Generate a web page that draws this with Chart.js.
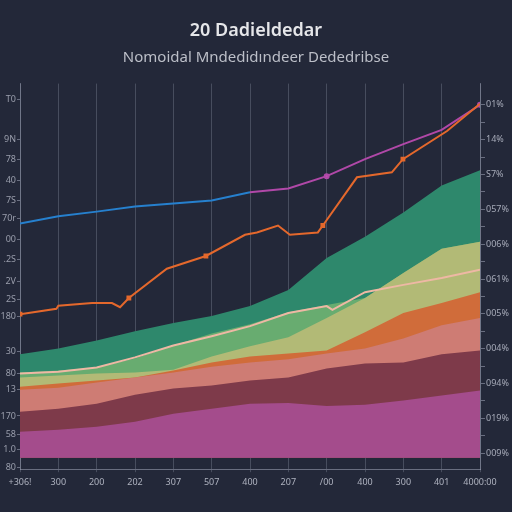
<!DOCTYPE html>
<html>
<head>
<meta charset="utf-8">
<script src="https://cdn.jsdelivr.net/npm/chart.js@4/dist/chart.umd.min.js"></script>
<style>
  html, body { margin: 0; padding: 0; background: #232839; }
  canvas { display: block; }
</style>
</head>
<body>
<canvas id="chart" width="512" height="512"></canvas>
<script>
// axis labels
const xLabels = ["+306!", "300", "200", "202", "307", "507", "400", "207", "/00", "400", "300", "401", "4000:00"];
const leftTickValues = [92.8, 82.6, 77.4, 71.9, 66.7, 62.0, 56.5, 51.3, 45.8, 40.9, 36.7, 27.5, 21.8, 17.6, 10.8, 6.1, 2.0, -2.5];
const leftTickLabels = ["T0", "9N", "78", "40", "7S", "70r", "00", ".2S", "2V", "2S", "180", "30", "80", "13", "170", "58", "1.0", "80"];
const rightTickLabels = ["01%", "14%", "S7%", "057%", "006%", "061%", "005%", "004%", "094%", "019%", "009%"];

// stacked band tops (absolute), one value per x category
const magentaTop = [6.7, 7.2, 8.0, 9.3, 11.4, 12.7, 14.0, 14.2, 13.4, 13.7, 14.8, 16.1, 17.4];
const maroonTop  = [11.9, 12.7, 14.0, 16.3, 17.9, 18.7, 20.0, 20.8, 23.1, 24.4, 24.7, 26.8, 27.8];
const salmonTop  = [17.6, 18.1, 19.5, 20.8, 22.1, 23.6, 24.7, 25.5, 27.0, 28.3, 30.9, 34.3, 36.2];
const orangeTop  = [18.4, 19.2, 20.0, 20.8, 22.6, 24.7, 26.2, 27.0, 27.8, 32.5, 37.5, 40.1, 42.9];
const yellowTop  = [20.8, 21.3, 21.8, 22.1, 22.8, 26.2, 28.9, 31.2, 36.2, 41.4, 47.9, 54.2, 56.0];
const greenTop   = [22.1, 22.6, 23.4, 25.7, 29.1, 32.2, 34.6, 37.7, 39.6, 41.4, 47.9, 54.2, 56.0];
const tealTop    = [26.8, 28.3, 30.4, 32.8, 34.9, 36.7, 39.3, 43.5, 51.8, 57.3, 63.6, 70.6, 74.5];

// lines
const blueLine = [60.7, 62.6, 63.8, 65.1, 65.9, 66.7, 68.8, 69.8, 73.0, 77.4, 81.3, 85.0, 91.5];
const pinkX = [0, 1, 2, 3, 4, 5, 6, 7, 8, 8.15, 9, 10, 11, 12];
const pinkY = [21.8, 22.3, 23.4, 26.0, 29.1, 31.5, 34.1, 37.5, 39.3, 38.3, 42.9, 44.8, 46.6, 48.7];
const orangeX = [0, 0.95, 1.0, 1.88, 2.4, 2.61, 2.84, 3.83, 4.85, 5.87, 6.18, 6.73, 7.04, 7.77, 7.9, 8.79, 9.7, 9.99, 11.14, 12];
const orangeY = [37.2, 38.6, 39.4, 40.1, 40.1, 39.0, 41.4, 49.0, 52.3, 57.8, 58.4, 60.2, 57.8, 58.4, 60.2, 72.7, 74.0, 77.4, 84.7, 91.8];
const orangeMarked = [0, 6, 8, 14, 17];

const pts = (ys, xs) => ys.map((y, i) => ({ x: xs ? xs[i] : i, y: y }));

function band(values, color) {
    return {
        data: pts(values),
        fill: "origin",
        backgroundColor: color,
        borderWidth: 0,
        pointRadius: 0,
        tension: 0
    };
}

const chart = new Chart("chart", {
    type: "line",
    data: {
        datasets: [
            {
                data: pts(orangeY, orangeX),
                borderColor: "rgb(228, 104, 44)",
                backgroundColor: "rgb(228, 104, 44)",
                borderWidth: 2,
                pointStyle: "rect",
                pointRadius: orangeY.map((_, i) => orangeMarked.includes(i) ? 2 : 0),
                fill: false,
                tension: 0
            },
            {
                data: pts(blueLine),
                borderColor: "rgb(176, 72, 168)",
                backgroundColor: "rgb(190, 80, 175)",
                borderWidth: 2,
                pointRadius: blueLine.map((_, i) => (i === 8 || i === 12) ? 2 : 0),
                fill: false,
                tension: 0,
                segment: {
                    borderColor: ctx => ctx.p0DataIndex < 6 ? "rgb(38, 128, 206)" : "rgb(176, 72, 168)"
                }
            },
            {
                data: pts(pinkY, pinkX),
                borderColor: "rgb(238, 184, 164)",
                borderWidth: 2,
                pointRadius: 0,
                fill: false,
                tension: 0
            },
            band(magentaTop, "rgb(164, 76, 140)"),
            band(maroonTop, "rgb(126, 58, 74)"),
            band(salmonTop, "rgb(206, 124, 116)"),
            band(orangeTop, "rgb(208, 108, 58)"),
            band(yellowTop, "rgb(178, 186, 118)"),
            band(greenTop, "rgb(104, 172, 112)"),
            band(tealTop, "rgb(46, 136, 108)")
        ]
    },
    options: {
        responsive: false,
        animation: false,
        layout: { padding: { top: 0, bottom: 19, left: 0, right: 0 } },
        plugins: {
            legend: { display: false },
            tooltip: { enabled: false },
            title: {
                display: true,
                text: "20 Dadieldedar",
                color: "#e6e7ea",
                font: { family: "Noto Sans", size: 18, weight: "600" },
                padding: { top: 20, bottom: 7 }
            },
            subtitle: {
                display: true,
                text: "Nomoidal Mndedidındeer Dededribse",
                color: "#bcbfc8",
                font: { family: "Noto Sans", size: 15 },
                padding: { top: 0, bottom: 17 }
            }
        },
        scales: {
            x: {
                type: "linear",
                min: 0,
                max: 12,
                afterBuildTicks: scale => {
                    scale.ticks = xLabels.map((_, i) => ({ value: i }));
                },
                ticks: {
                    autoSkip: false,
                    maxRotation: 0,
                    padding: 5,
                    color: "#aeb2bf",
                    font: { family: "Noto Sans", size: 9 },
                    callback: (value, index) => xLabels[index]
                },
                grid: {
                    color: "rgba(190, 195, 215, 0.24)",
                    lineWidth: 1,
                    drawTicks: true,
                    tickLength: 3
                },
                border: { display: true, color: "rgba(190, 195, 215, 0.45)" }
            },
            y: {
                position: "left",
                min: -3,
                max: 97,
                afterBuildTicks: scale => {
                    scale.ticks = leftTickValues.map(v => ({ value: v }));
                },
                afterFit: scale => { scale.width = 20; },
                ticks: {
                    autoSkip: false,
                    padding: 1,
                    color: "#9a9eac",
                    font: { family: "Noto Sans", size: 9 },
                    callback: (value, index) => leftTickLabels[index]
                },
                grid: {
                    drawOnChartArea: false,
                    color: "rgba(190, 195, 215, 0.45)",
                    tickLength: 3
                },
                border: { display: true, color: "rgba(190, 195, 215, 0.35)" }
            },
            y2: {
                position: "right",
                min: -0.46,
                max: 10.61,
                afterBuildTicks: scale => {
                    const t = [];
                    for (let i = 0; i <= 20; i++) t.push({ value: i * 0.5 });
                    scale.ticks = t;
                },
                afterFit: scale => { scale.width = 32; },
                ticks: {
                    autoSkip: false,
                    padding: 1,
                    color: "#a6aab8",
                    font: { family: "Noto Sans", size: 9 },
                    callback: (value, index) => index % 2 === 0 ? rightTickLabels[(20 - index) / 2] : ""
                },
                grid: {
                    drawOnChartArea: false,
                    color: "rgba(190, 195, 215, 0.45)",
                    tickLength: 5
                },
                border: { display: true, color: "rgba(190, 195, 215, 0.35)" }
            }
        }
    }
});
</script>
</body>
</html>
